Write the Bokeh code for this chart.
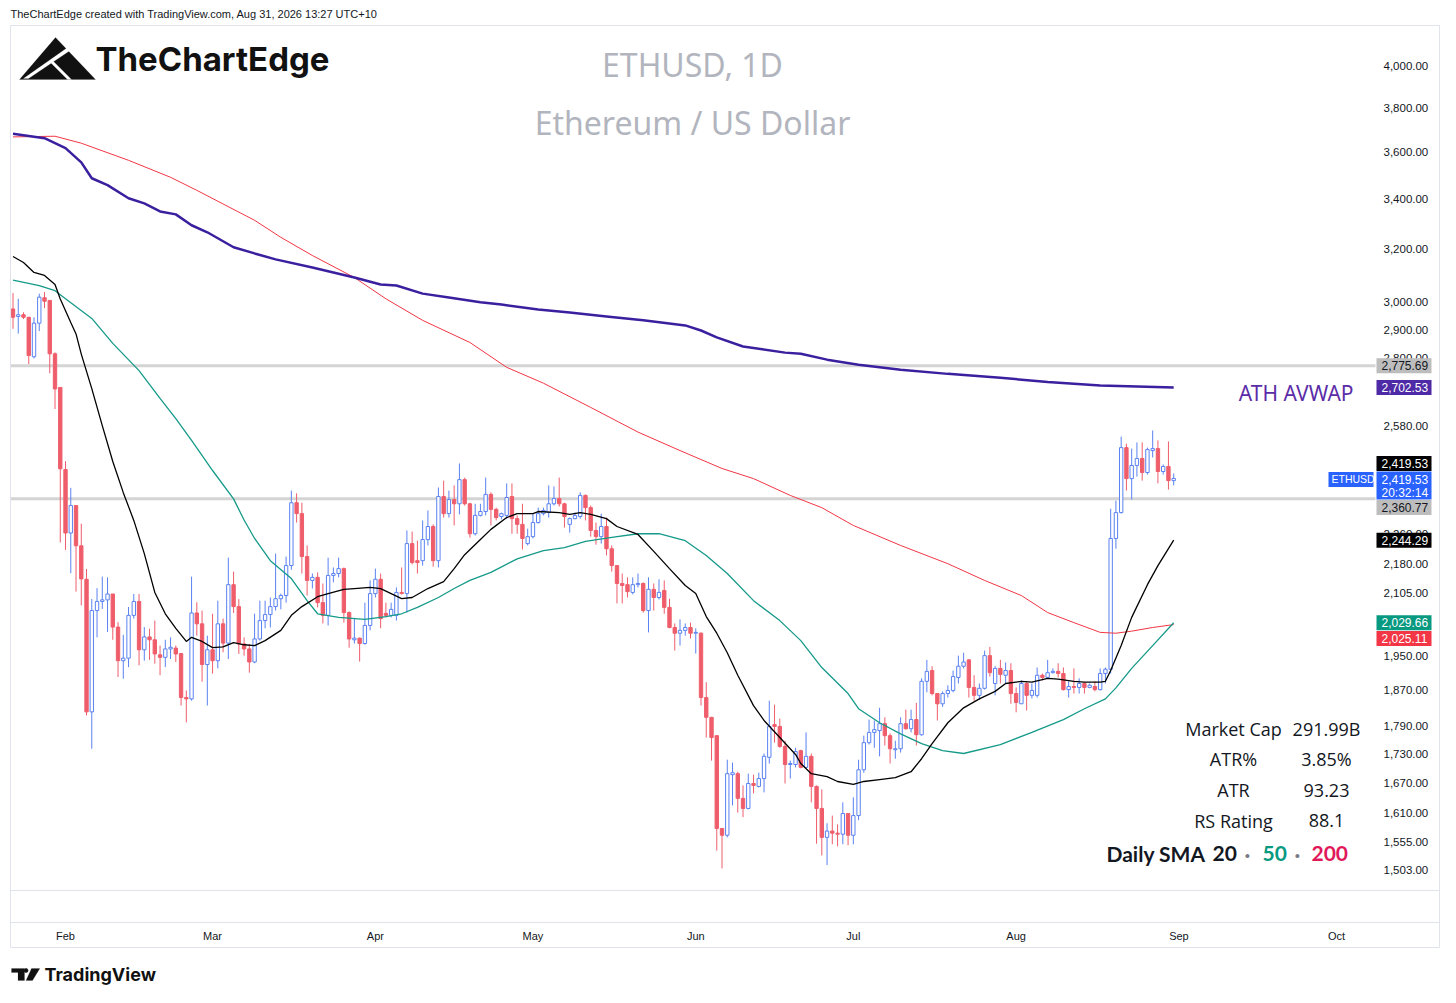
import math
import pandas as pd
from bokeh.plotting import figure
from bokeh.models import (Range1d, FixedTicker, NumeralTickFormatter, DatetimeTickFormatter,
                          Label, PolyAnnotation, BoxAnnotation, ColumnDataSource)
from bokeh.embed import file_html
from bokeh.resources import INLINE

# ---------------- data ----------------
start_date = "2026-01-22"

opens = [
    2974, 2947, 2953, 2944, 2806, 2923, 3015, 3005, 2816, 2703,
    2446, 2264, 2341, 2229, 2140, 1821, 2060, 2083, 2087, 2102,
    2019, 1938, 1944, 2048, 2083, 1964, 1995, 1988, 1952, 1946,
    1966, 1968, 1955, 1853, 1850, 2054, 2027, 1929, 1964, 1938,
    2027, 1980, 2126, 2070, 1978, 1966, 1935, 1990, 2035, 2050,
    2070, 2090, 2098, 2176, 2349, 2318, 2200, 2137, 2145, 2080,
    2048, 2150, 2155, 2168, 2055, 1988, 1992, 1979, 2023, 2103,
    2140, 2053, 2048, 2048, 2106, 2103, 2235, 2189, 2189, 2246,
    2282, 2189, 2367, 2318, 2358, 2346, 2416, 2346, 2262, 2313,
    2324, 2373, 2330, 2310, 2313, 2367, 2304, 2288, 2235, 2254,
    2293, 2318, 2321, 2346, 2361, 2346, 2288, 2304, 2310, 2370,
    2335, 2271, 2254, 2282, 2221, 2176, 2129, 2126, 2106, 2126,
    2129, 2060, 2114, 2093, 2111, 2068, 2018, 2004, 2011, 2018,
    2004, 2004, 1853, 1809, 1769, 1580, 1567, 1687, 1689, 1639,
    1619, 1669, 1663, 1679, 1723, 1793, 1789, 1746, 1708, 1708,
    1737, 1702, 1725, 1663, 1619, 1563, 1575, 1571, 1569, 1609,
    1567, 1605, 1697, 1754, 1776, 1780, 1795, 1769, 1739, 1741,
    1795, 1784, 1804, 1771, 1890, 1915, 1862, 1839, 1862, 1869,
    1899, 1925, 1940, 1876, 1858, 1874, 1950, 1885, 1920, 1904,
    1915, 1862, 1839, 1885, 1858, 1858, 1904, 1899, 1910, 1913,
    1908, 1871, 1878, 1876, 1885, 1876, 1878, 1871, 1908, 1918,
    2249, 2321, 2512, 2419, 2458, 2479, 2437, 2503, 2509, 2440,
    2455, 2413,
]
highs = [
    3032, 3011, 2962, 2944, 2944, 3030, 3036, 3005, 2821, 2703,
    2471, 2392, 2341, 2290, 2167, 2089, 2117, 2147, 2145, 2102,
    2031, 2000, 2069, 2102, 2102, 2019, 2015, 2035, 1974, 1988,
    1994, 1974, 1955, 1869, 2147, 2081, 2060, 1998, 2052, 2085,
    2040, 2197, 2160, 2089, 1994, 1978, 2052, 2085, 2085, 2093,
    2208, 2103, 2200, 2384, 2376, 2349, 2230, 2155, 2158, 2129,
    2197, 2171, 2197, 2171, 2058, 2040, 1993, 2080, 2137, 2168,
    2155, 2080, 2080, 2119, 2171, 2271, 2268, 2243, 2299, 2327,
    2288, 2393, 2413, 2384, 2399, 2464, 2422, 2349, 2346, 2346,
    2422, 2379, 2335, 2321, 2405, 2405, 2313, 2346, 2276, 2318,
    2335, 2335, 2399, 2396, 2422, 2349, 2307, 2321, 2379, 2373,
    2341, 2293, 2318, 2307, 2230, 2176, 2155, 2145, 2145, 2155,
    2132, 2145, 2129, 2140, 2137, 2090, 2028, 2038, 2028, 2030,
    2016, 2006, 1888, 1809, 1769, 1580, 1718, 1712, 1693, 1665,
    1689, 1687, 1691, 1731, 1846, 1837, 1806, 1758, 1716, 1743,
    1739, 1776, 1731, 1665, 1657, 1590, 1605, 1588, 1631, 1609,
    1641, 1718, 1769, 1804, 1802, 1830, 1809, 1774, 1758, 1809,
    1826, 1826, 1841, 1897, 1940, 1925, 1862, 1867, 1881, 1915,
    1950, 1957, 1942, 1904, 1885, 1962, 1971, 1925, 1940, 1934,
    1932, 1876, 1892, 1888, 1885, 1922, 1908, 1940, 1920, 1932,
    1922, 1890, 1920, 1897, 1888, 1885, 1890, 1920, 1922, 2332,
    2355, 2546, 2524, 2509, 2528, 2528, 2512, 2565, 2534, 2461,
    2531, 2434,
]
lows = [
    2903, 2886, 2938, 2781, 2800, 2895, 2977, 2750, 2633, 2238,
    2218, 2156, 2108, 2073, 1813, 1741, 1994, 2064, 2007, 1988,
    1900, 1896, 1923, 2040, 1927, 1938, 1940, 1931, 1904, 1923,
    1942, 1935, 1835, 1798, 1846, 1998, 1889, 1835, 1908, 1920,
    1958, 1942, 2054, 1954, 1950, 1910, 1932, 1986, 2016, 2018,
    2060, 2063, 2080, 2165, 2293, 2155, 2098, 2116, 2068, 2028,
    2023, 2132, 2145, 2030, 1969, 1979, 1936, 1976, 2011, 2093,
    2016, 2043, 2043, 2035, 2101, 2055, 2179, 2155, 2176, 2230,
    2173, 2171, 2307, 2307, 2285, 2316, 2341, 2251, 2257, 2310,
    2313, 2285, 2299, 2302, 2304, 2262, 2262, 2219, 2230, 2249,
    2290, 2313, 2307, 2341, 2338, 2279, 2265, 2302, 2304, 2299,
    2254, 2232, 2235, 2203, 2160, 2078, 2078, 2093, 2101, 2119,
    2055, 2006, 2060, 2088, 2052, 2016, 1962, 1974, 1998, 1991,
    1955, 1835, 1765, 1716, 1538, 1505, 1563, 1625, 1611, 1602,
    1617, 1649, 1661, 1651, 1710, 1754, 1743, 1669, 1679, 1702,
    1700, 1700, 1631, 1551, 1529, 1511, 1550, 1546, 1550, 1548,
    1550, 1596, 1691, 1750, 1743, 1725, 1748, 1710, 1720, 1733,
    1782, 1776, 1748, 1769, 1865, 1858, 1802, 1832, 1853, 1865,
    1885, 1920, 1853, 1846, 1848, 1871, 1901, 1858, 1885, 1885,
    1839, 1820, 1839, 1824, 1851, 1853, 1892, 1897, 1908, 1899,
    1869, 1853, 1862, 1862, 1862, 1874, 1867, 1869, 1885, 1908,
    2221, 2318, 2384, 2358, 2425, 2413, 2431, 2482, 2405, 2431,
    2387, 2399,
]
closes = [
    2944, 2953, 2944, 2810, 2923, 3017, 3002, 2816, 2698, 2448,
    2264, 2341, 2229, 2141, 1821, 2060, 2083, 2087, 2102, 2019,
    1938, 1944, 2048, 2083, 1964, 1995, 1988, 1954, 1946, 1966,
    1970, 1954, 1853, 1850, 2054, 2027, 1929, 1964, 1938, 2027,
    1980, 2126, 2070, 1978, 1966, 1935, 1990, 2035, 2050, 2070,
    2090, 2098, 2176, 2349, 2318, 2200, 2137, 2145, 2080, 2048,
    2150, 2155, 2168, 2055, 1990, 1992, 1979, 2023, 2103, 2140,
    2040, 2048, 2063, 2106, 2103, 2235, 2184, 2184, 2246, 2282,
    2189, 2367, 2318, 2358, 2346, 2416, 2346, 2262, 2313, 2324,
    2373, 2330, 2307, 2318, 2364, 2304, 2288, 2249, 2254, 2293,
    2318, 2327, 2346, 2361, 2346, 2310, 2304, 2313, 2370, 2335,
    2271, 2254, 2282, 2221, 2176, 2129, 2124, 2108, 2126, 2129,
    2060, 2114, 2093, 2106, 2068, 2018, 2004, 2011, 2018, 2004,
    2006, 1853, 1809, 1765, 1580, 1567, 1689, 1691, 1639, 1619,
    1669, 1665, 1679, 1725, 1789, 1789, 1746, 1708, 1710, 1735,
    1702, 1725, 1663, 1619, 1563, 1575, 1571, 1569, 1609, 1567,
    1605, 1697, 1754, 1776, 1782, 1795, 1769, 1741, 1741, 1795,
    1784, 1804, 1771, 1890, 1913, 1862, 1839, 1862, 1869, 1901,
    1925, 1935, 1876, 1858, 1874, 1950, 1910, 1920, 1906, 1915,
    1862, 1842, 1885, 1858, 1869, 1904, 1899, 1910, 1913, 1908,
    1871, 1878, 1876, 1885, 1876, 1881, 1871, 1908, 1918, 2249,
    2321, 2512, 2419, 2458, 2479, 2437, 2506, 2509, 2440, 2455,
    2413, 2419.53,
]

sma20_dates = [
    "2026-01-22", "2026-01-24", "2026-01-26", "2026-01-28", "2026-01-30", "2026-01-31",
    "2026-02-02", "2026-02-03", "2026-02-04", "2026-02-06", "2026-02-08", "2026-02-10",
    "2026-02-12", "2026-02-14", "2026-02-16", "2026-02-18", "2026-02-20", "2026-02-22",
    "2026-02-24", "2026-02-25", "2026-02-27", "2026-03-01", "2026-03-03", "2026-03-05",
    "2026-03-07", "2026-03-09", "2026-03-11", "2026-03-14", "2026-03-16", "2026-03-18",
    "2026-03-21", "2026-03-23", "2026-03-26", "2026-03-28", "2026-03-31", "2026-04-02",
    "2026-04-04", "2026-04-06", "2026-04-08", "2026-04-11", "2026-04-14", "2026-04-16",
    "2026-04-18", "2026-04-21", "2026-04-23", "2026-04-26", "2026-04-28", "2026-05-01",
    "2026-05-02", "2026-05-06", "2026-05-08", "2026-05-10", "2026-05-12", "2026-05-15",
    "2026-05-17", "2026-05-21", "2026-05-24", "2026-05-27", "2026-05-30", "2026-06-01",
    "2026-06-03", "2026-06-05", "2026-06-07", "2026-06-09", "2026-06-12", "2026-06-14",
    "2026-06-17", "2026-06-20", "2026-06-21", "2026-06-23", "2026-06-26", "2026-06-28",
    "2026-07-01", "2026-07-03", "2026-07-06", "2026-07-09", "2026-07-12", "2026-07-14",
    "2026-07-16", "2026-07-19", "2026-07-22", "2026-07-25", "2026-07-28", "2026-07-30",
    "2026-08-02", "2026-08-04", "2026-08-07", "2026-08-09", "2026-08-12", "2026-08-14",
    "2026-08-17", "2026-08-18", "2026-08-19", "2026-08-21", "2026-08-23", "2026-08-26",
    "2026-08-28", "2026-08-31",
]
sma20_vals = [
    3170, 3147, 3109, 3098, 3064, 3010,
    2925, 2885, 2815, 2699, 2580, 2470,
    2378, 2299, 2208, 2106, 2052, 2016,
    1984, 1994, 1984, 1969, 1971, 1981,
    1976, 1974, 1986, 2011, 2048, 2070,
    2095, 2103, 2114, 2116, 2119, 2116,
    2103, 2090, 2093, 2116, 2134, 2168,
    2205, 2246, 2274, 2307, 2318, 2318,
    2324, 2321, 2316, 2321, 2316, 2304,
    2282, 2260, 2214, 2168, 2124, 2103,
    2045, 2004, 1957, 1904, 1835, 1802,
    1765, 1729, 1710, 1689, 1683, 1673,
    1667, 1673, 1677, 1681, 1693, 1720,
    1752, 1797, 1830, 1850, 1867, 1885,
    1890, 1888, 1897, 1895, 1890, 1888,
    1888, 1890, 1915, 1974, 2043, 2126,
    2176, 2244.29,
]

sma50_dates = [
    "2026-01-22", "2026-01-27", "2026-01-30", "2026-02-01", "2026-02-06", "2026-02-10",
    "2026-02-15", "2026-02-19", "2026-02-22", "2026-02-25", "2026-03-01", "2026-03-05",
    "2026-03-07", "2026-03-09", "2026-03-12", "2026-03-16", "2026-03-19", "2026-03-21",
    "2026-03-25", "2026-03-30", "2026-04-03", "2026-04-06", "2026-04-09", "2026-04-13",
    "2026-04-16", "2026-04-19", "2026-04-23", "2026-04-28", "2026-05-03", "2026-05-07",
    "2026-05-11", "2026-05-16", "2026-05-21", "2026-05-25", "2026-05-30", "2026-06-03",
    "2026-06-07", "2026-06-12", "2026-06-17", "2026-06-21", "2026-06-25", "2026-06-30",
    "2026-07-02", "2026-07-06", "2026-07-10", "2026-07-14", "2026-07-18", "2026-07-22",
    "2026-07-29", "2026-08-04", "2026-08-10", "2026-08-14", "2026-08-18", "2026-08-20",
    "2026-08-23", "2026-08-27", "2026-08-31",
]
sma50_vals = [
    3080, 3060, 3041, 3011, 2940, 2852,
    2759, 2667, 2602, 2534, 2443, 2360,
    2300, 2249, 2189, 2142, 2085, 2052,
    2043, 2038, 2045, 2052, 2068, 2093,
    2116, 2137, 2158, 2194, 2216, 2224,
    2241, 2252, 2262, 2262, 2243, 2203,
    2155, 2085, 2035, 1986, 1922, 1862,
    1828, 1797, 1773, 1752, 1737, 1731,
    1750, 1776, 1804, 1828, 1850, 1875,
    1920, 1974, 2029.66,
]

sma200_dates = [
    "2026-01-22", "2026-01-30", "2026-02-04", "2026-02-13", "2026-02-21", "2026-02-26",
    "2026-03-09", "2026-03-14", "2026-03-20", "2026-03-28", "2026-04-03", "2026-04-10",
    "2026-04-19", "2026-04-26", "2026-05-03", "2026-05-12", "2026-05-21", "2026-05-29",
    "2026-06-06", "2026-06-12", "2026-06-19", "2026-06-25", "2026-07-01", "2026-07-10",
    "2026-07-19", "2026-07-26", "2026-08-02", "2026-08-07", "2026-08-12", "2026-08-17",
    "2026-08-20", "2026-08-23", "2026-08-27", "2026-08-31",
]
sma200_vals = [
    3667, 3670, 3639, 3564, 3491, 3436,
    3313, 3245, 3174, 3090, 3011, 2933,
    2855, 2770, 2717, 2638, 2560, 2503,
    2449, 2419, 2370, 2335, 2285, 2230,
    2181, 2137, 2098, 2055, 2030, 2006,
    2004, 2009, 2018, 2025.11,
]

avwap_dates = [
    "2026-01-22", "2026-01-28", "2026-02-01", "2026-02-04", "2026-02-06", "2026-02-09",
    "2026-02-13", "2026-02-16", "2026-02-19", "2026-02-22", "2026-02-25", "2026-02-28",
    "2026-03-05", "2026-03-09", "2026-03-13", "2026-03-20", "2026-03-28", "2026-04-02",
    "2026-04-05", "2026-04-10", "2026-04-15", "2026-04-21", "2026-04-25", "2026-05-02",
    "2026-05-08", "2026-05-15", "2026-05-22", "2026-05-30", "2026-06-02", "2026-06-05",
    "2026-06-10", "2026-06-18", "2026-06-21", "2026-06-26", "2026-07-02", "2026-07-10",
    "2026-07-19", "2026-07-29", "2026-08-07", "2026-08-17", "2026-08-31",
]
avwap_vals = [
    3681, 3661, 3617, 3555, 3487, 3458,
    3403, 3382, 3349, 3337, 3293, 3265,
    3206, 3182, 3159, 3128, 3090, 3064,
    3060, 3030, 3016, 2998, 2990, 2972,
    2961, 2947, 2933, 2915, 2897, 2873,
    2841, 2820, 2816, 2796, 2779, 2762,
    2748, 2735, 2721, 2709, 2702.53,
]

price_ticks = [1503, 1555, 1610, 1670, 1730, 1790, 1870, 1950, 2105, 2180, 2260,
               2580, 2800, 2900, 3000, 3200, 3400, 3600, 3800, 4000]
month_ticks = ["2026-02-01", "2026-03-01", "2026-04-01", "2026-05-01", "2026-06-01",
               "2026-07-01", "2026-08-01", "2026-09-01", "2026-10-01"]

resistance_level = 2775.69
support_level = 2360.77
last_price = 2419.53
avwap_last = 2702.53
sma20_last = 2244.29
sma50_last = 2029.66
sma200_last = 2025.11
countdown = "20:32:14"
stats_labels = ["Market Cap", "ATR%", "ATR", "RS Rating"]
stats_values = ["291.99B", "3.85%", "93.23", "88.1"]

# ---------------- layout / style constants ----------------
UP = "#5a82f1"
DOWN = "#ef5d6b"
INK = "#131722"
W_PX, H_PX = 1440, 987           # canvas; the frame fills it
P_REF, Y_REF, PX_PER_LN = 4000.0, 65.0, 821.4   # price scale geometry (pixels)
X0_PX, PX_PER_DAY = 12.5, 5.252                  # time scale geometry (pixels)
PANE_L, PANE_R, PANE_T, PANE_B = 10, 1375, 25, 890

t0 = pd.Timestamp(start_date)


def py(ypx):
    """price sitting at a canvas pixel row"""
    return P_REF * math.exp(-(ypx - Y_REF) / PX_PER_LN)


def ypx(price):
    return Y_REF - PX_PER_LN * math.log(price / P_REF)


def dx(xpx):
    """timestamp sitting at a canvas pixel column"""
    return t0 + pd.Timedelta(days=(xpx - X0_PX) / PX_PER_DAY)


def ms(ts):
    return pd.Timestamp(ts).value / 1e6


p = figure(width=W_PX, height=H_PX, title=None,
           x_axis_type="datetime", y_axis_type="log", y_axis_location="right",
           x_range=Range1d(dx(0), dx(W_PX)), y_range=Range1d(py(H_PX), py(0)),
           output_backend="svg", toolbar_location=None, min_border=0,
           min_border_left=0, min_border_right=0, min_border_top=0, min_border_bottom=0)
p.xgrid.visible = False
p.ygrid.visible = False
p.outline_line_color = None
p.background_fill_color = "#ffffff"
p.border_fill_color = "#ffffff"

# axes, pinned at the edges of the price pane
yax = p.yaxis[0]
xax = p.xaxis[0]
yax.fixed_location = ms(dx(PANE_R))
xax.fixed_location = py(922)
yax.ticker = FixedTicker(ticks=price_ticks, minor_ticks=[])
yax.formatter = NumeralTickFormatter(format="0,0.00")
xax.ticker = FixedTicker(ticks=[ms(m) for m in month_ticks], minor_ticks=[])
xax.formatter = DatetimeTickFormatter(months="%b", days="%b", years="%b")
for ax in (xax, yax):
    ax.axis_line_color = None
    ax.major_tick_line_color = None
    ax.minor_tick_line_color = None
    ax.major_tick_out = 0
    ax.major_tick_in = 0
    ax.major_label_text_font = "Liberation Sans"
    ax.major_label_text_color = INK
yax.major_label_text_font_size = "11.5px"
xax.major_label_text_font_size = "11px"
yax.major_label_standoff = 8
xax.major_label_standoff = 7

# support / resistance lines (reach the price scale)
p.segment(x0=[dx(PANE_L)] * 2, x1=[dx(PANE_R)] * 2,
          y0=[resistance_level, support_level], y1=[resistance_level, support_level],
          line_color="#d4d4d4", line_width=3, level="underlay")

# candles
dates = pd.date_range(t0, periods=len(closes), freq="D")
W = 0.64 * 86400000
rows = list(zip(dates, opens, highs, lows, closes))
upr = [r for r in rows if r[4] >= r[1]]
dnr = [r for r in rows if r[4] < r[1]]


def src(rs):
    return ColumnDataSource(dict(x=[r[0] for r in rs], o=[r[1] for r in rs], h=[r[2] for r in rs],
                                 l=[r[3] for r in rs], c=[r[4] for r in rs]))


src_up, src_dn = src(upr), src(dnr)
p.segment(x0="x", y0="h", x1="x", y1="l", line_color=UP, line_width=1, source=src_up)
p.segment(x0="x", y0="h", x1="x", y1="l", line_color=DOWN, line_width=1, source=src_dn)
p.vbar(x="x", width=W, top="c", bottom="o", fill_color="#ffffff", line_color=UP, line_width=1, source=src_up)
p.vbar(x="x", width=W, top="o", bottom="c", fill_color=DOWN, line_color=DOWN, line_width=1, source=src_dn)

# indicator lines
p.line(pd.to_datetime(sma200_dates), sma200_vals, line_color="#f23645", line_width=1)
p.line(pd.to_datetime(sma50_dates), sma50_vals, line_color="#159a89", line_width=1.3)
p.line(pd.to_datetime(sma20_dates), sma20_vals, line_color="#000000", line_width=1.3)
p.line(pd.to_datetime(avwap_dates), avwap_vals, line_color="#3a1f9e", line_width=2.5)


def box(l, r, t, b, fill=None, line=None):
    p.add_layout(BoxAnnotation(left=l, right=r, top=py(t), bottom=py(b),
                               left_units="screen", right_units="screen",
                               fill_color=fill, fill_alpha=1 if fill else 0,
                               line_color=line, line_width=1, line_alpha=1 if line else 0))


def poly(xs, ys, color):
    p.add_layout(PolyAnnotation(xs=xs, ys=[py(v) for v in ys], xs_units="screen", ys_units="data",
                                fill_color=color, fill_alpha=1, line_color=color, line_width=0.5))


# panel borders
box(PANE_L, W_PX - 1, PANE_T, 947, line="#e0e3eb")
box(PANE_L, W_PX - 1, PANE_B, 922, line="#e0e3eb")


def label(text, x, y, size, color=INK, font="Noto Sans", align="left", style="normal"):
    p.add_layout(Label(x=x, y=y, x_units="screen", y_units="data", text=text,
                       text_font=font, text_font_size=size, text_color=color,
                       text_align=align, text_baseline="middle", text_font_style=style))


def tag(text, yc, bg, fg="#ffffff", left=1376, right=1431, half=7.5, size="12px", pad=5):
    box(left, right, yc - half, yc + half, fill=bg)
    label(text, left + pad, py(yc), size, color=fg, font="Liberation Sans")


# header + watermark
label("TheChartEdge created with TradingView.com, Aug 31, 2026 13:27 UTC+10", 10, py(13), "11px",
      font="Liberation Sans")
label("ETHUSD, 1D", 692, py(64), "32px", color="#b2b5be", align="center")
label("Ethereum / US Dollar", 692, py(122), "32px", color="#b2b5be", align="center")

# TheChartEdge logo
poly([19, 55, 95], [79, 37, 79], "#111111")
poly([23, 28, 74, 70], [78, 78, 47, 45], "#ffffff")
poly([50, 53, 71, 67], [62, 61, 79, 79], "#ffffff")
label("TheChartEdge", 95, py(58), "33px", color="#111111", font="Inter", style="bold")

# bottom TradingView logo
poly([11, 24, 24, 17.5, 17.5, 11], [968, 968, 980, 980, 972, 972], "#111111")
poly([25.5 + 2.2 * math.cos(a * math.pi / 6) for a in range(12)],
     [970 + 2.2 * math.sin(a * math.pi / 6) for a in range(12)], "#111111")
poly([31, 39.3, 32, 25.5], [968, 968, 980, 980], "#111111")
label("TradingView", 44, py(974), "18px", color="#111111", font="Inter", style="bold")

# ATH AVWAP caption
label("ATH AVWAP", 1353, py(392), "21px", color="#5b2ca8", align="right")

# statistics table
for i, (k, v) in enumerate(zip(stats_labels, stats_values)):
    yrow = 728 + i * 30.8
    label(k, 1233, py(yrow), "18px", align="center", font="Open Sans")
    label(v, 1326, py(yrow), "18px", align="center", font="Open Sans")
label("Daily SMA", 1106, py(853), "21px", font="Lato", style="bold")
label("20", 1212, py(853), "21px", font="Lato", style="bold")
label("\u00b7", 1247, py(853), "21px", color="#787b86", font="Lato", style="bold", align="center")
label("50", 1262, py(853), "21px", color="#089981", font="Lato", style="bold")
label("\u00b7", 1297, py(853), "21px", color="#787b86", font="Lato", style="bold", align="center")
label("200", 1311, py(853), "21px", color="#e0185a", font="Lato", style="bold")

# price scale tags
tag(f"{resistance_level:,.2f}", ypx(resistance_level), "#bdbdbd", fg=INK)
tag(f"{avwap_last:,.2f}", ypx(avwap_last), "#4e2aa6")
tag(f"{last_price:,.2f}", 463, "#000000")
box(1376, 1431, 471, 499, fill="#2962ff")
label(f"{last_price:,.2f}", 1381, py(479), "12px", color="#ffffff", font="Liberation Sans")
label(countdown, 1381, py(492), "12px", color="#ffffff", font="Liberation Sans")
tag("ETHUSD", ypx(last_price) + 1, "#2962ff", left=1328, right=1373, size="10.5px", pad=3)
tag(f"{support_level:,.2f}", 507, "#bdbdbd", fg=INK)
tag(f"{sma20_last:,.2f}", ypx(sma20_last), "#000000")
tag(f"{sma50_last:,.2f}", ypx(sma50_last), "#089981")
tag(f"{sma200_last:,.2f}", 638, "#f23645")

open("out.html", "w").write(file_html(p, INLINE))
